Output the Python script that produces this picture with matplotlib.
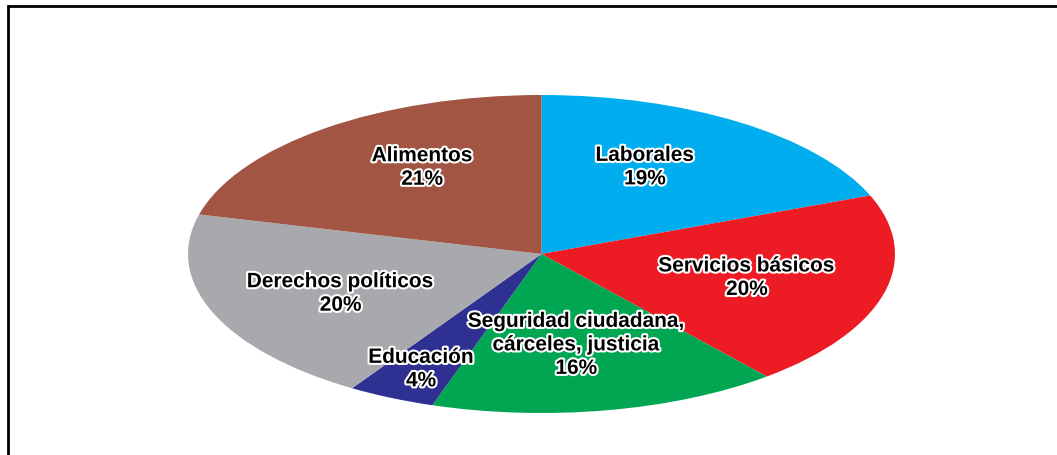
import numpy as np
import matplotlib
matplotlib.use('Agg')
import matplotlib.pyplot as plt
import matplotlib.patches as mpatches
import matplotlib.patheffects as pe

categorias = ['Laborales', 'Servicios básicos', 'Seguridad ciudadana,\ncárceles, justicia',
              'Educación', 'Derechos políticos', 'Alimentos']
porcentajes = [19, 20, 16, 4, 20, 21]
colores = ['#00AEEF', '#ED1C24', '#00A651', '#2E3192', '#A7A9AC', '#A25542']

plt.rcParams['font.family'] = ['Liberation Sans', 'DejaVu Sans']

fig = plt.figure(figsize=(10.57, 4.55), dpi=100)
ax = fig.add_axes([188/1057, 42/455, 707/1057, 318/455])

wedges, _ = ax.pie(porcentajes, colors=colores, startangle=90, counterclock=False,
                   radius=1.0, wedgeprops=dict(linewidth=0))
ax.set_aspect('auto')
ax.set_xlim(-1, 1)
ax.set_ylim(-1, 1)
ax.axis('off')

# posicion de las etiquetas: distancia al centro y pequeño giro (grados)
dist = [0.62, 0.60, 0.58, 0.80, 0.62, 0.64]
giro = [6, 0, -1, 0, 2, -6]
for w, cat, p, d, g in zip(wedges, categorias, porcentajes, dist, giro):
    ang = np.deg2rad((w.theta1 + w.theta2) / 2 + g)
    ax.text(d*np.cos(ang), d*np.sin(ang), cat + '\n' + str(p) + '%',
            ha='center', va='center', fontsize=15, fontweight='bold',
            linespacing=1.3, color='black',
            path_effects=[pe.withStroke(linewidth=3, foreground='white')])

# marco del grafico
marco = mpatches.Rectangle((8/1057, -0.1), 1.2, 1 - 6/455 + 0.1, transform=fig.transFigure,
                           fill=False, edgecolor='black', linewidth=2, clip_on=False)
fig.patches.append(marco)

fig.savefig('out.png', dpi=100)
